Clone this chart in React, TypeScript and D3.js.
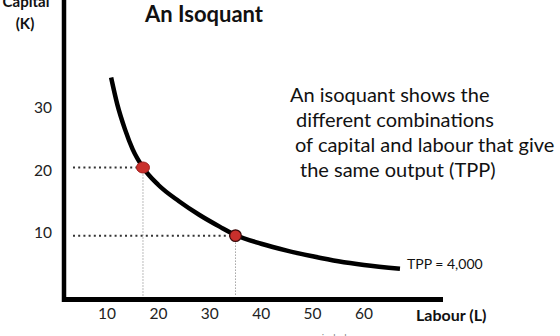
import React from "react";
import * as d3 from "d3";

const W = 560;
const H = 336;

// Isoquant curve (Labour L, Capital K)
const curveL = [10.8, 12, 13.5, 15, 17, 20, 24, 28, 32, 35, 40, 45, 50, 55, 60, 67];
const curveK = [34.8, 30.5, 26.5, 23.3, 20.4, 17.6, 15.0, 12.8, 10.9, 9.6, 8.2, 7.1, 6.2, 5.4, 4.8, 4.2];

// highlighted combinations
const pointL = [17.0, 35.0];
const pointK = [20.4, 9.5];

const xTicks = [10, 20, 30, 40, 50, 60];
const yTicks = [10, 20, 30];

const noteLines = [
  "An isoquant shows the",
  "different combinations",
  "of capital and labour that give",
  "the same output (TPP)",
];

const FONT = "Lato, 'Open Sans', sans-serif";

export default function App() {
  const x = d3.scaleLinear().domain([10, 60]).range([107, 364]);
  const y = d3.scaleLinear().domain([10, 30]).range([232.5, 107.5]);

  const axisX0 = 64; // y-axis position in px
  const axisY0 = 299.5; // x-axis position in px

  const line = d3
    .line<number>()
    .x((_, i) => x(curveL[i]))
    .y((d) => y(d))
    .curve(d3.curveMonotoneX);

  const noteX = [290, 296, 295, 300];

  return (
    <svg
      width={W}
      height={H}
      style={{ position: "absolute", left: 0, top: 0, background: "#fff" }}
      fontFamily={FONT}
    >
      {/* dotted guide lines */}
      {pointL.map((l, i) => (
        <g key={"g" + i}>
          <line
            x1={axisX0 + 9}
            x2={x(l) - 4}
            y1={y(pointK[i])}
            y2={y(pointK[i])}
            stroke="#333"
            strokeWidth={2}
            strokeDasharray="2,3.2"
          />
          <line
            x1={x(l)}
            x2={x(l)}
            y1={y(pointK[i]) + 4}
            y2={axisY0 - 3}
            stroke="#777"
            strokeWidth={1}
            strokeDasharray="1,2"
          />
        </g>
      ))}

      {/* curve */}
      <path
        d={line(curveK) || ""}
        fill="none"
        stroke="#000"
        strokeWidth={4.5}
        strokeLinecap="butt"
      />

      {/* points */}
      <ellipse
        cx={x(pointL[0])}
        cy={y(pointK[0])}
        rx={6.5}
        ry={5.5}
        fill="#c9302c"
        stroke="#a02020"
        strokeWidth={1}
      />
      <circle
        cx={x(pointL[1])}
        cy={y(pointK[1])}
        r={5.8}
        fill="#c9302c"
        stroke="#3a0a0a"
        strokeWidth={1.2}
      />

      {/* axes */}
      <line x1={axisX0} x2={axisX0} y1={0} y2={axisY0 + 2.5} stroke="#000" strokeWidth={4.5} />
      <line x1={axisX0 - 2} x2={443} y1={axisY0} y2={axisY0} stroke="#000" strokeWidth={5} />

      {/* tick labels */}
      {xTicks.map((t) => (
        <text key={"x" + t} x={x(t)} y={319} textAnchor="middle" fontSize={15.5} fill="#222">
          {t}
        </text>
      ))}
      {yTicks.map((t) => (
        <text key={"y" + t} x={52} y={y(t) + 5.5} textAnchor="end" fontSize={15.5} fill="#222">
          {t}
        </text>
      ))}

      {/* axis titles */}
      <text x={26} y={7} textAnchor="middle" fontSize={15} fontWeight="bold" fill="#111">
        Capital
      </text>
      <text x={25} y={29} textAnchor="middle" fontSize={15} fontWeight="bold" fill="#111">
        (K)
      </text>
      <text x={416} y={321} fontSize={16} fontWeight="bold" fill="#111">
        Labour (L)
      </text>

      {/* title */}
      <text x={145} y={22} fontSize={22} fontWeight="bold" fill="#111">
        An Isoquant
      </text>

      {/* curve label */}
      <text x={407} y={269} fontSize={14} fill="#111">
        TPP = 4,000
      </text>

      {/* explanation */}
      {noteLines.map((s, i) => (
        <text key={"n" + i} x={noteX[i]} y={102 + i * 25} fontSize={20} fill="#111">
          {s}
        </text>
      ))}

      {/* watermark */}
      <text x={315} y={341} textAnchor="middle" fontSize={10} fill="#888">
        www.economicshelp.org
      </text>
    </svg>
  );
}
